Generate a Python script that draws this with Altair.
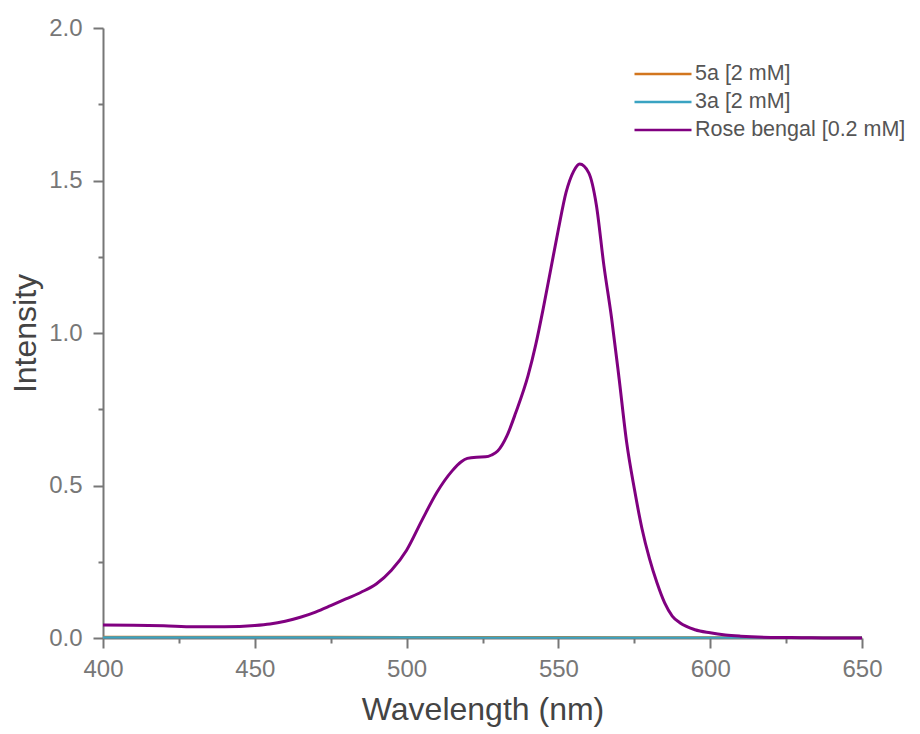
import altair as alt
import pandas as pd

# ---- data ----
rb_wl = [400, 410, 420, 430, 440, 450, 455, 460, 465, 470, 475, 480, 485, 490, 495,
         500, 505, 510, 515, 518, 520, 523, 526, 528, 530, 533, 536, 540, 542.5, 545,
         547.5, 550, 552.5, 555, 557, 560, 562.5, 565, 567.5, 570, 572.5, 575, 577.5,
         580, 582.5, 585, 587.5, 590, 595, 600, 605, 610, 620, 630, 640, 650]
rb_int = [0.043, 0.042, 0.040, 0.037, 0.037, 0.041, 0.046, 0.055, 0.068, 0.085, 0.106,
          0.128, 0.150, 0.177, 0.222, 0.288, 0.385, 0.478, 0.548, 0.578, 0.589, 0.593,
          0.594, 0.600, 0.613, 0.662, 0.740, 0.860, 0.960, 1.080, 1.210, 1.340, 1.460,
          1.530, 1.554, 1.525, 1.420, 1.220, 1.050, 0.850, 0.640, 0.490, 0.360, 0.260,
          0.180, 0.115, 0.072, 0.050, 0.027, 0.017, 0.010, 0.006, 0.002, 0.001, 0.000,
          0.000]

a5_wl = [400, 450, 500, 550, 600, 650]
a5_int = [0.004, 0.004, 0.003, 0.003, 0.002, 0.002]

a3_wl = [400, 450, 500, 550, 600, 650]
a3_int = [0.002, 0.002, 0.002, 0.001, 0.001, 0.001]

series_names = ["5a [2 mM]", "3a [2 mM]", "Rose bengal [0.2 mM]"]
series_colors = ["#D2761E", "#3AA3C2", "#800080"]

x_ticks = list(range(400, 651, 25))
y_ticks = [i * 0.25 for i in range(9)]

rows = []
for name, wl, it in [(series_names[0], a5_wl, a5_int),
                     (series_names[1], a3_wl, a3_int),
                     (series_names[2], rb_wl, rb_int)]:
    for w, v in zip(wl, it):
        rows.append({"series": name, "wl": w, "int": v})
df = pd.DataFrame(rows)

FONT = "Liberation Sans"

color = alt.Color(
    "series:N",
    scale=alt.Scale(domain=series_names, range=series_colors),
    sort=series_names,
    legend=alt.Legend(
        title=None, orient="none", legendX=549, legendY=35, padding=0,
        symbolType="M-3,0H3", symbolSize=361, symbolStrokeWidth=2.5,
        labelFontSize=21.5, labelFont=FONT, labelColor="#555555", labelLimit=0,
        labelOffset=21, rowPadding=6,
    ),
)

x = alt.X(
    "wl:Q",
    scale=alt.Scale(domain=[400, 650], nice=False, zero=False),
    axis=alt.Axis(
        title="Wavelength (nm)", values=x_ticks, labelFlush=False,
        labelExpr="datum.value % 50 == 0 ? datum.label : ''",
        tickSize={"condition": {"test": "datum.value % 50 != 0", "value": 5}, "value": 10},
        grid=False, labelPadding=9, titlePadding=13,
    ),
)
y = alt.Y(
    "int:Q",
    scale=alt.Scale(domain=[0, 2], nice=False),
    axis=alt.Axis(
        title="Intensity", values=y_ticks, format=".1f", labelFlush=False,
        labelExpr="(datum.value * 2) % 1 == 0 ? datum.label : ''",
        tickSize={"condition": {"test": "(datum.value * 2) % 1 != 0", "value": 5}, "value": 10},
        grid=False, labelPadding=11, titlePadding=6,
    ),
)

base = alt.Chart(df)
low = base.transform_filter(alt.datum.series != series_names[2]).mark_line(
    strokeWidth=2.2, interpolate="monotone").encode(x=x, y=y, color=color)
rb = base.transform_filter(alt.datum.series == series_names[2]).mark_line(
    strokeWidth=3, interpolate="monotone").encode(x=x, y=y, color=color)

chart = alt.layer(low, rb).properties(
    width=759, height=610,
    autosize=alt.AutoSizeParams(type="none"),
    padding={"left": 95, "top": 20, "right": 48, "bottom": 92},
).configure_view(stroke=None).configure_axis(
    domainColor="#777777", domainWidth=2, tickColor="#777777", tickWidth=2,
    labelColor="#777777", labelFont=FONT, labelFontSize=24,
    titleColor="#444444", titleFont=FONT, titleFontSize=32, titleFontWeight="normal",
)

chart.save("out.html", embed_options={"renderer": "svg", "actions": False})
